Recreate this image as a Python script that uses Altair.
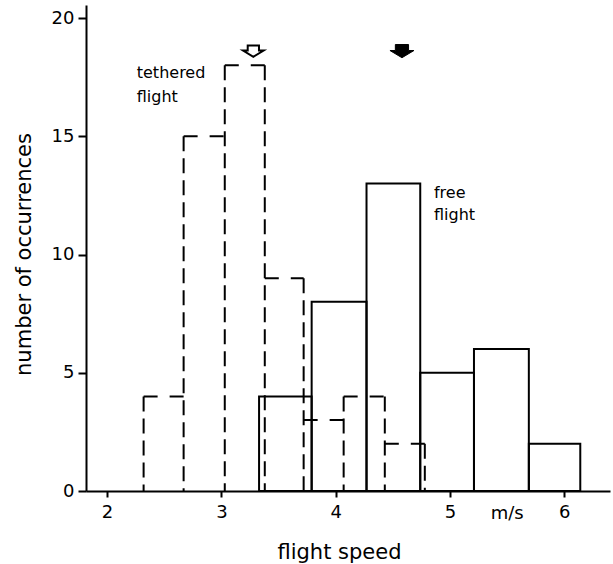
import altair as alt
import pandas as pd

# Tethered flight histogram (dashed)
teth_edges = [2.32, 2.67, 3.03, 3.38, 3.72, 4.07, 4.43, 4.78]
teth_counts = [4, 15, 18, 9, 3, 4, 2]

# Free flight histogram (solid)
free_edges = [3.33, 3.79, 4.27, 4.74, 5.21, 5.69, 6.14]
free_counts = [4, 8, 13, 5, 6, 2]

# Mean arrows
arrow_x = [3.28, 4.58]
arrow_y = [18.6, 18.6]
arrow_kind = ["tethered", "free"]

# Labels
label_text = ["tethered", "flight", "free", "flight"]
label_x = [2.26, 2.26, 4.86, 4.86]
label_y = [17.67, 16.66, 12.6, 11.67]

x_ticks = [2, 3, 4, 5, 6]
y_ticks = [0, 5, 10, 15, 20]
unit_label = "m/s"
unit_x = 5.5

FONT = "DejaVu Sans"

xs = alt.Scale(domain=[1.816, 6.4], nice=False, zero=False)
ys = alt.Scale(domain=[0, 20.55], nice=False)

# tethered: vertical dashed rules at each edge, horizontal dashed rules on tops
vert = []
for i, e in enumerate(teth_edges):
    left = teth_counts[i - 1] if i > 0 else 0
    right = teth_counts[i] if i < len(teth_counts) else 0
    vert.append({"x": e, "top": max(left, right), "bot": 0})
vert_df = pd.DataFrame(vert)
horiz_df = pd.DataFrame({
    "x": teth_edges[:-1], "x2": teth_edges[1:], "y": teth_counts
})
free_df = pd.DataFrame({
    "x": free_edges[:-1], "x2": free_edges[1:], "y": free_counts,
    "y0": [0] * len(free_counts)
})
arrow_df = pd.DataFrame({"x": arrow_x, "y": arrow_y, "kind": arrow_kind})
label_df = pd.DataFrame({"t": label_text, "x": label_x, "y": label_y})
unit_df = pd.DataFrame({"t": [unit_label], "x": [unit_x]})

x_axis = alt.Axis(values=x_ticks, format="d", title="flight speed", grid=False,
                  domainColor="black", domainWidth=2, tickColor="black",
                  tickWidth=2, tickSize=6, labelPadding=6,
                  labelFont=FONT, labelFontSize=18, labelColor="black",
                  titleFont=FONT, titleFontSize=21, titleFontWeight="normal",
                  titleColor="black", titleX=253, titleY=67,
                  titleBaseline="alphabetic", titleAlign="center")
y_axis = alt.Axis(values=y_ticks, format="d", title="number of occurrences",
                  grid=False,
                  domainColor="black", domainWidth=2, tickColor="black",
                  tickWidth=2, tickSize=8, labelPadding=4,
                  labelFont=FONT, labelFontSize=18, labelColor="black",
                  titleFont=FONT, titleFontSize=21, titleFontWeight="normal",
                  titleColor="black", titleX=-62, titleY=249,
                  titleAngle=-90, titleBaseline="middle", titleAlign="center")

free_layer = alt.Chart(free_df).mark_rect(
    fill=None, stroke="black", strokeWidth=2
).encode(
    x=alt.X("x:Q", scale=xs, axis=x_axis), x2="x2:Q",
    y=alt.Y("y:Q", scale=ys, axis=y_axis), y2="y0:Q"
)

vert_layer = alt.Chart(vert_df).mark_rule(
    color="black", strokeWidth=2, strokeDash=[15, 7]
).encode(x=alt.X("x:Q", scale=xs), y=alt.Y("top:Q", scale=ys), y2="bot:Q")

horiz_layer = alt.Chart(horiz_df).mark_rule(
    color="black", strokeWidth=2, strokeDash=[14, 12]
).encode(x=alt.X("x:Q", scale=xs), x2="x2:Q", y=alt.Y("y:Q", scale=ys))

ARROW = "M-0.55,-0.55 L0.55,-0.55 L0.55,-0.05 L1,-0.05 L0,0.55 L-1,-0.05 L-0.55,-0.05 Z"
open_arrow = alt.Chart(arrow_df).transform_filter(
    alt.datum.kind == "tethered"
).mark_point(shape=ARROW, size=420, filled=False, stroke="black",
             strokeWidth=2, opacity=1).encode(
    x=alt.X("x:Q", scale=xs), y=alt.Y("y:Q", scale=ys))
filled_arrow = alt.Chart(arrow_df).transform_filter(
    alt.datum.kind == "free"
).mark_point(shape=ARROW, size=576, filled=True, fill="black",
             stroke="black", strokeWidth=1, opacity=1).encode(
    x=alt.X("x:Q", scale=xs), y=alt.Y("y:Q", scale=ys))

labels = alt.Chart(label_df).mark_text(
    font=FONT, fontSize=16, align="left", baseline="middle", color="black"
).encode(x=alt.X("x:Q", scale=xs), y=alt.Y("y:Q", scale=ys), text="t:N")

unit = alt.Chart(unit_df).mark_text(
    font=FONT, fontSize=18, align="center", baseline="top", color="black"
).encode(x=alt.X("x:Q", scale=xs), y=alt.value(500), text="t:N")

chart = alt.layer(
    free_layer, vert_layer, horiz_layer, open_arrow, filled_arrow, labels, unit
).properties(
    width=524, height=486,
    padding={"left": 86, "top": 5, "right": 3, "bottom": 73},
    autosize=alt.AutoSizeParams(type="none"),
    background="white"
).configure_view(stroke=None)

chart.save("out.html", embed_options={"renderer": "svg", "actions": False})
